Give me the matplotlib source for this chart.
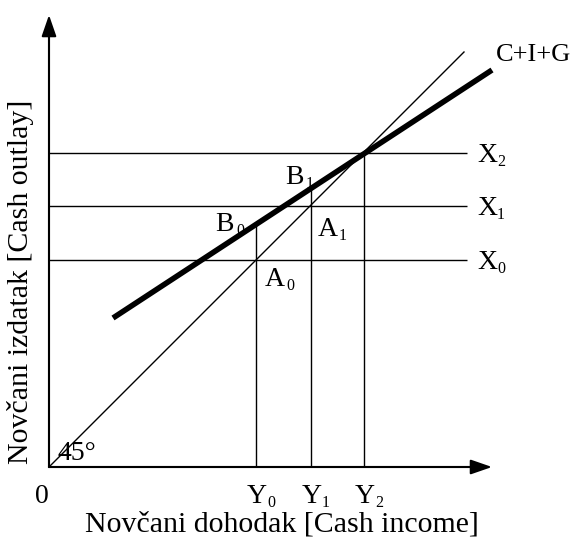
import matplotlib.pyplot as plt
import numpy as np

plt.rcParams['font.family'] = ['Liberation Serif', 'DejaVu Serif']

# Podaci (jedinice od ishodišta)
dohodak = [207, 262, 315]          # Y0, Y1, Y2
izdatak = [207, 261, 314]          # X0, X1, X2
cig_x = [64, 443]                  # C+I+G linija
cig_y = [149, 397]
linija45 = [0, 415]
os_x_max = 443
os_y_max = 452

fig = plt.figure(figsize=(5.71, 5.40), dpi=100)
ax = fig.add_axes([0, 0, 1, 1])
ax.set_xlim(-49, 522)
ax.set_ylim(-73, 467)
ax.axis('off')

# osi
for kraj in [(os_x_max, 0), (0, os_y_max)]:
    ax.annotate('', xy=kraj, xytext=(0, 0),
                arrowprops=dict(arrowstyle='-|>,head_length=1.3,head_width=0.45',
                                lw=1.5, shrinkA=0, shrinkB=0,
                                fc='black', ec='black'))
ax.plot([0, 0], [0, os_y_max - 18], color='#999999', lw=1.5)
ax.plot([0, os_x_max - 18], [0, 0], color='#999999', lw=1.5)

# 45° linija
ax.plot(linija45, linija45, color='black', lw=1)

# horizontalne linije X0..X2
for v in izdatak:
    ax.hlines(v, 0, 418, color='black', lw=1)

# vertikalne linije do C+I+G
slope = (cig_y[1] - cig_y[0]) / (cig_x[1] - cig_x[0])
for v in dohodak:
    top = cig_y[0] + slope * (v - cig_x[0])
    ax.vlines(v, 0, top, color='black', lw=1)

# C+I+G
ax.plot(cig_x, cig_y, color='black', lw=4, solid_capstyle='butt')

fs = 20


def oznaka(x, y, slovo, indeks, sirina=20):
    # slovo s malim indeksom dolje desno
    ax.text(x, y, slovo, fontsize=fs, va='baseline', ha='left')
    ax.text(x + sirina, y - 4, indeks, fontsize=11.5, va='baseline', ha='left')


ax.text(447, 412, 'C+I+G', fontsize=19, va='center', ha='left')
for i, v in enumerate(izdatak):
    oznaka(428, v - 9, 'X', str(i), 20)
for i, v in enumerate(dohodak):
    oznaka(v - 9, -36, 'Y', str(i), 20)
ax.text(-7, -36, '0', fontsize=fs, va='baseline', ha='center')
ax.text(8, 7, '45°', fontsize=fs, va='baseline', ha='left')

oznaka(166, 236, 'B', '0', 21)
oznaka(236, 283, 'B', '1', 21)
oznaka(269, 231, 'A', '1', 21)
oznaka(216, 181, 'A', '0', 21)

ax.text(233, -58, 'Novčani dohodak [Cash income]', fontsize=21.5, ha='center', va='center')
ax.text(-28, 185, 'Novčani izdatak [Cash outlay]', fontsize=21.5, ha='center', va='center',
        rotation=90)

plt.savefig('out.png', dpi=100)
